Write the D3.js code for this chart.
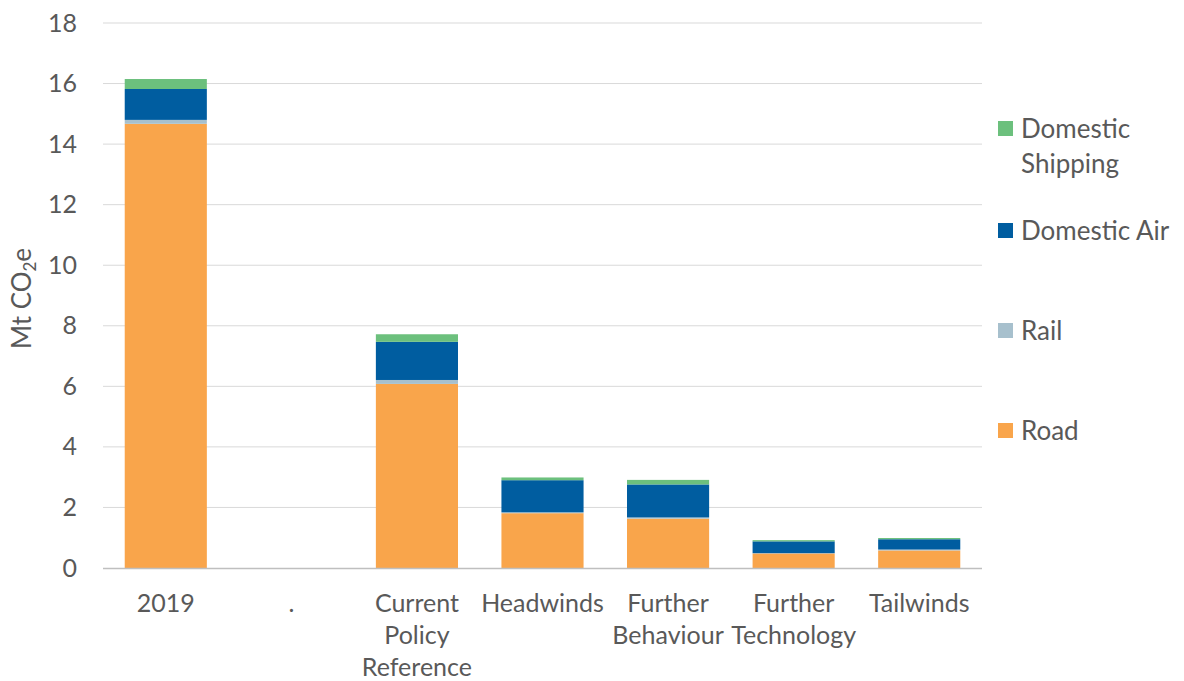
<!DOCTYPE html>
<html>
<head>
<meta charset="utf-8">
<script src="https://cdn.jsdelivr.net/npm/d3@7"></script>
<style>
  html, body { margin: 0; padding: 0; background: #ffffff; }
  svg { display: block; }
  text { font-family: "Lato", "Open Sans", sans-serif; fill: #595959; }
</style>
</head>
<body>
<svg id="chart" width="1184" height="681"></svg>
<script>
// Transport emissions by scenario (Mt CO2e)
const categories = ["2019", ".", "Current Policy Reference", "Headwinds", "Further Behaviour", "Further Technology", "Tailwinds"];
const categoryLines = [["2019"], ["."], ["Current", "Policy", "Reference"], ["Headwinds"], ["Further", "Behaviour"], ["Further", "Technology"], ["Tailwinds"]];

const road     = [14.67, 0, 6.08, 1.81, 1.63, 0.48, 0.58];
const rail     = [0.13,  0, 0.13, 0.03, 0.04, 0.01, 0.03];
const domAir   = [1.02,  0, 1.26, 1.06, 1.09, 0.39, 0.34];
const shipping = [0.33,  0, 0.25, 0.09, 0.15, 0.04, 0.04];

const seriesNames = ["Road", "Rail", "Domestic Air", "Domestic Shipping"];
const seriesColors = ["#F9A54B", "#A7C0CD", "#005DA0", "#6CC07D"];
const yTicks = [0, 2, 4, 6, 8, 10, 12, 14, 16, 18];

const rows = categories.map((c, i) => ({
  category: c,
  "Road": road[i],
  "Rail": rail[i],
  "Domestic Air": domAir[i],
  "Domestic Shipping": shipping[i]
}));

const svg = d3.select("#chart");
const plot = { left: 103, right: 982, top: 23, bottom: 568 };
const fontSize = 25;

const x = d3.scaleBand().domain(categories).range([plot.left, plot.right]).paddingInner(0.346).paddingOuter(0.173);
const y = d3.scaleLinear().domain([0, 18]).range([plot.bottom, plot.top]);

// gridlines
svg.append("g")
  .selectAll("line")
  .data(yTicks.filter(t => t > 0))
  .join("line")
  .attr("x1", plot.left).attr("x2", plot.right)
  .attr("y1", d => y(d)).attr("y2", d => y(d))
  .attr("stroke", "#D9D9D9").attr("stroke-width", 1);

// y axis labels
const yAxis = svg.append("g")
  .attr("transform", `translate(${plot.left},0)`)
  .call(d3.axisLeft(y).tickValues(yTicks).tickSize(0).tickPadding(26));
yAxis.select(".domain").remove();
yAxis.selectAll("text")
  .style("font-size", fontSize + "px")
  .style("font-family", "Lato, 'Open Sans', sans-serif")
  .attr("fill", "#595959");

// stacked bars
const stack = d3.stack().keys(seriesNames);
const layers = stack(rows);
svg.append("g")
  .selectAll("g")
  .data(layers)
  .join("g")
  .attr("fill", (d, i) => seriesColors[i])
  .selectAll("rect")
  .data(d => d)
  .join("rect")
  .attr("x", d => x(d.data.category))
  .attr("width", x.bandwidth())
  .attr("y", d => y(d[1]))
  .attr("height", d => Math.max(0, y(d[0]) - y(d[1])));

// baseline
svg.append("line")
  .attr("x1", plot.left).attr("x2", plot.right)
  .attr("y1", y(0) + 0.5).attr("y2", y(0) + 0.5)
  .attr("stroke", "#BFBFBF").attr("stroke-width", 1.5);

// category labels
const xl = svg.append("g");
categories.forEach((c, i) => {
  const t = xl.append("text")
    .attr("x", x(c) + x.bandwidth() / 2)
    .attr("y", 612)
    .attr("text-anchor", "middle")
    .style("font-size", fontSize + "px");
  categoryLines[i].forEach((line, j) => {
    t.append("tspan")
      .attr("x", x(c) + x.bandwidth() / 2)
      .attr("dy", j === 0 ? 0 : 32)
      .text(line);
  });
});

// y axis title
const title = svg.append("text")
  .attr("transform", `translate(31,${y(9) + 3}) rotate(-90)`)
  .attr("text-anchor", "middle")
  .style("font-size", "26px");
title.append("tspan").text("Mt CO");
title.append("tspan").attr("dy", 5).style("font-size", "17px").text("2");
title.append("tspan").attr("dy", -5).text("e");

// legend (top to bottom: shipping, air, rail, road)
const legendItems = [
  { lines: ["Domestic", "Shipping"], color: seriesColors[3], y: 129 },
  { lines: ["Domestic Air"], color: seriesColors[2], y: 231 },
  { lines: ["Rail"], color: seriesColors[1], y: 331 },
  { lines: ["Road"], color: seriesColors[0], y: 431 }
];
const lg = svg.append("g");
legendItems.forEach(item => {
  lg.append("rect")
    .attr("x", 998).attr("y", item.y - 8)
    .attr("width", 15).attr("height", 15)
    .attr("fill", item.color);
  const t = lg.append("text")
    .attr("x", 1021).attr("y", item.y + 9)
    .style("font-size", "26px");
  item.lines.forEach((line, j) => {
    t.append("tspan").attr("x", 1021).attr("dy", j === 0 ? 0 : 35).text(line);
  });
});
</script>
</body>
</html>
